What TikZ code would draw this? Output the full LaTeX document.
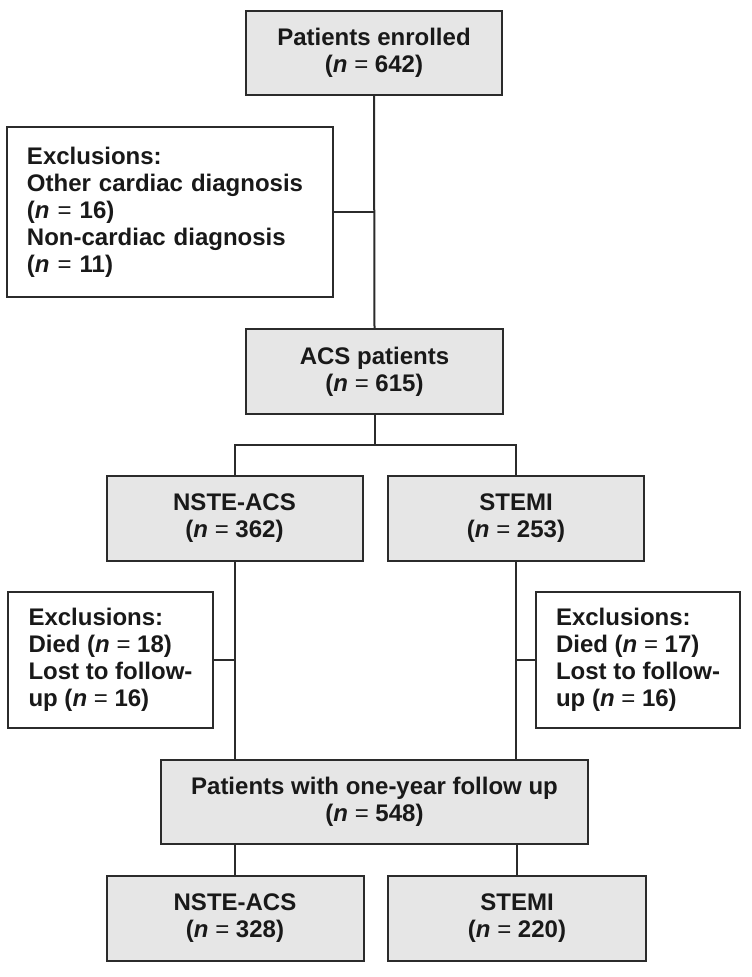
\documentclass[tikz,border=0pt]{standalone}
\usepackage{fontspec}
\setmainfont{Liberation Sans}
\definecolor{boxgray}{HTML}{E6E6E6}
\definecolor{linegray}{HTML}{2B2B2B}
\newcommand\myeq{{\mdseries =}}
\begin{document}
\begin{tikzpicture}[x=1pt,y=-1pt,
  base/.style={draw=linegray, line width=2pt, font=\fontsize{24}{27}\selectfont\bfseries, text=black!90, inner sep=0pt},
  graybox/.style={base, fill=boxgray, align=center},
  whitebox/.style={base, fill=white, align=left},
  conn/.style={draw=linegray, line width=2pt}]
\useasboundingbox (0,0) rectangle (752,977);
\node[graybox, minimum width=256pt, minimum height=84pt] (enr) at (374,53) {Patients enrolled\\(\textit{n} \myeq{} 642)};
\node[whitebox, text width=286pt, inner xsep=20pt, minimum height=170pt] (ex1) at (170,212) {Exclusions:\\Other cardiac diagnosis\\(\textit{n} \myeq{} 16)\\Non-cardiac diagnosis\\(\textit{n} \myeq{} 11)};
\node[graybox, minimum width=257pt, minimum height=85pt] (acs) at (374.5,371.5) {ACS patients\\(\textit{n} \myeq{} 615)};
\node[graybox, minimum width=256pt, minimum height=85pt] (nste) at (234.5,518.5) {NSTE-ACS\\(\textit{n} \myeq{} 362)};
\node[graybox, minimum width=256pt, minimum height=85pt] (stemi) at (516,518.5) {STEMI\\(\textit{n} \myeq{} 253)};
\node[whitebox, minimum width=205pt, minimum height=136pt] (ex2) at (110.5,660) {Exclusions:\\Died (\textit{n} \myeq{} 18)\\Lost to follow-\\up (\textit{n} \myeq{} 16)};
\node[whitebox, minimum width=204pt, minimum height=136pt] (ex3) at (638,660) {Exclusions:\\Died (\textit{n} \myeq{} 17)\\Lost to follow-\\up (\textit{n} \myeq{} 16)};
\node[graybox, minimum width=427pt, minimum height=84pt] (fu) at (374.5,802) {Patients with one-year follow up\\(\textit{n} \myeq{} 548)};
\node[graybox, minimum width=257pt, minimum height=85pt] (b1) at (235,918.5) {NSTE-ACS\\(\textit{n} \myeq{} 328)};
\node[graybox, minimum width=258pt, minimum height=85pt] (b2) at (517,918.5) {STEMI\\(\textit{n} \myeq{} 220)};
\coordinate (split) at (374.5,445);
\draw[conn] (enr.south) -- (acs.north);
\draw[conn] (ex1.east) -- (ex1.east -| enr.south);
\draw[conn] (acs.south) -- (split);
\draw[conn] (nste.north) |- (split) -| (stemi.north);
\draw[conn] (nste.south) -- (nste.south |- fu.north);
\draw[conn] (stemi.south) -- (stemi.south |- fu.north);
\draw[conn] (ex2.east) -- (ex2.east -| nste.south);
\draw[conn] (ex3.west) -- (ex3.west -| stemi.south);
\draw[conn] (b1.north |- fu.south) -- (b1.north);
\draw[conn] (b2.north |- fu.south) -- (b2.north);
\end{tikzpicture}
\end{document}
